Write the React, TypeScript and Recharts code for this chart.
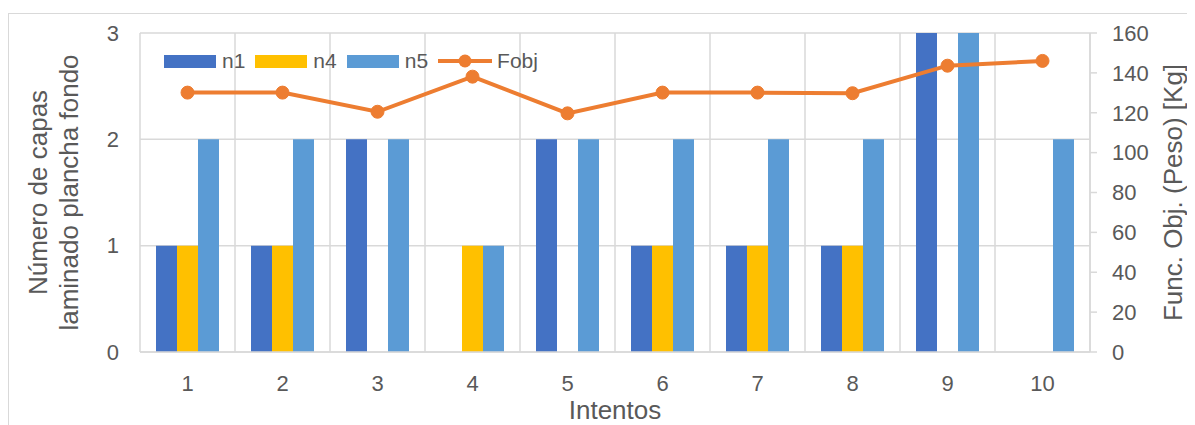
import { ComposedChart, Bar, Line, XAxis, YAxis, CartesianGrid, Legend } from "recharts"

const categories = ["1", "2", "3", "4", "5", "6", "7", "8", "9", "10"]
const n1 = [1, 1, 2, 0, 2, 1, 1, 1, 3, 0]
const n4 = [1, 1, 0, 1, 0, 1, 1, 1, 0, 0]
const n5 = [2, 2, 2, 1, 2, 2, 2, 2, 3, 2]
const fobj = [130.1, 130.1, 120.5, 138.1, 119.7, 130.1, 130.1, 129.8, 143.6, 146.0]

const leftTicks = [0, 1, 2, 3]
const rightTicks = [0, 20, 40, 60, 80, 100, 120, 140, 160]

const barSeries = [
  { key: "n1", color: "#4472C4" },
  { key: "n4", color: "#FFC000" },
  { key: "n5", color: "#5B9BD5" },
]
const lineSeries = { key: "Fobj", color: "#ED7D31" }

const data = categories.map((name, i) => ({
  name,
  n1: n1[i],
  n4: n4[i],
  n5: n5[i],
  Fobj: fobj[i],
}))

const FONT = '"Liberation Sans", Arial, sans-serif'
const TEXT = "#595959"
const GRID = "#D9D9D9"

function renderLegend() {
  return (
    <div style={{ display: "flex", alignItems: "center", fontFamily: FONT, fontSize: 21, color: TEXT }}>
      {barSeries.map((s) => (
        <div key={s.key} style={{ display: "flex", alignItems: "center", marginRight: 10 }}>
          <span style={{ display: "inline-block", width: 52, height: 13, background: s.color, marginRight: 6 }} />
          <span>{s.key}</span>
        </div>
      ))}
      <div style={{ display: "flex", alignItems: "center" }}>
        <svg width={54} height={16} style={{ marginRight: 5 }}>
          <line x1={0} y1={8} x2={54} y2={8} stroke={lineSeries.color} strokeWidth={4} />
          <circle cx={27} cy={8} r={6.5} fill={lineSeries.color} />
        </svg>
        <span>{lineSeries.key}</span>
      </div>
    </div>
  )
}

function LeftTitle({ viewBox }: any) {
  const cy = viewBox.y + viewBox.height / 2
  return (
    <g fill={TEXT} fontFamily={FONT} fontSize={26} textAnchor="middle">
      <text transform={`translate(${viewBox.x + 39}, ${cy}) rotate(-90)`}>Número de capas</text>
      <text transform={`translate(${viewBox.x + 70}, ${cy}) rotate(-90)`}>laminado plancha fondo</text>
    </g>
  )
}

function RightTitle({ viewBox }: any) {
  const cy = viewBox.y + viewBox.height / 2
  return (
    <text
      transform={`translate(${viewBox.x + 92}, ${cy}) rotate(-90)`}
      fill={TEXT}
      fontFamily={FONT}
      fontSize={26}
      textAnchor="middle"
    >
      Func. Obj. (Peso) [Kg]
    </text>
  )
}

function BottomTitle({ viewBox }: any) {
  return (
    <text
      x={viewBox.x + viewBox.width / 2}
      y={viewBox.y + viewBox.height - 6}
      fill={TEXT}
      fontFamily={FONT}
      fontSize={26}
      textAnchor="middle"
    >
      Intentos
    </text>
  )
}

export default function App() {
  const tickStyle = { fill: TEXT, fontSize: 22, fontFamily: FONT }
  return (
    <div style={{ position: "relative", width: 1187, height: 417, overflow: "hidden", background: "#fff" }}>
      <div
        style={{
          position: "absolute",
          left: 0,
          top: 5,
          width: 1400,
          height: 600,
          border: `1px solid ${GRID}`,
        }}
      />
      <ComposedChart
        width={1187}
        height={417}
        data={data}
        margin={{ top: 25, right: 0, left: 0, bottom: 0 }}
        barCategoryGap={16}
        barGap={0}
      >
        <CartesianGrid
          stroke={GRID}
          strokeWidth={1.5}
          verticalCoordinatesGenerator={({ offset }: any) =>
            Array.from({ length: categories.length + 1 }, (_, i) => offset.left + (i * offset.width) / categories.length)
          }
        />
        <XAxis
          dataKey="name"
          height={73}
          axisLine={{ stroke: GRID, strokeWidth: 1.5 }}
          tickLine={false}
          tickSize={0}
          tickMargin={23}
          tick={tickStyle}
          label={<BottomTitle />}
        />
        <YAxis
          width={132}
          domain={[0, 3]}
          ticks={leftTicks}
          axisLine={false}
          tickLine={false}
          tickSize={0}
          tickMargin={21}
          tick={tickStyle}
          label={<LeftTitle />}
        />
        <YAxis
          yAxisId="right"
          orientation="right"
          width={105}
          domain={[0, 160]}
          ticks={rightTicks}
          axisLine={{ stroke: GRID, strokeWidth: 1.5 }}
          tickLine={{ stroke: GRID, strokeWidth: 1.5 }}
          tickSize={7}
          tickMargin={15}
          tick={tickStyle}
          label={<RightTitle />}
        />
        <Legend
          layout="horizontal"
          verticalAlign="middle"
          align="center"
          content={renderLegend}
          wrapperStyle={{ top: 41, left: 156, width: "auto", height: "auto" }}
        />
        {barSeries.map((s) => (
          <Bar key={s.key} dataKey={s.key} fill={s.color} isAnimationActive={false} />
        ))}
        <Line
          yAxisId="right"
          dataKey={lineSeries.key}
          stroke={lineSeries.color}
          strokeWidth={4}
          dot={{ r: 6.5, fill: lineSeries.color, stroke: lineSeries.color, strokeWidth: 1 }}
          activeDot={false}
          isAnimationActive={false}
        />
      </ComposedChart>
    </div>
  )
}
